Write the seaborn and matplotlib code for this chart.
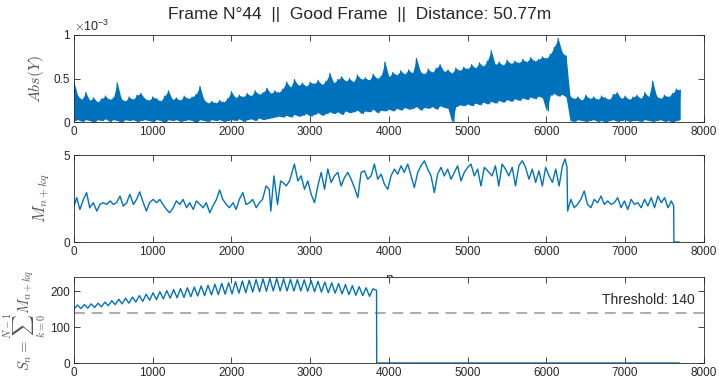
import matplotlib
matplotlib.use("Agg")
import matplotlib.pyplot as plt
import numpy as np
import pandas as pd
import seaborn as sns

# ---- data ----
# top panel: |Y| (in units of 1e-3), upper / lower edge of the dense trace every 50 samples
abs_n = np.arange(0, 7701, 50)
abs_hi = [0.46, 0.30, 0.26, 0.34, 0.25, 0.28, 0.23, 0.27, 0.30, 0.26,
          0.28, 0.45, 0.27, 0.24, 0.29, 0.26, 0.31, 0.33, 0.27, 0.25,
          0.29, 0.27, 0.24, 0.30, 0.36, 0.26, 0.28, 0.25, 0.30, 0.27,
          0.29, 0.32, 0.41, 0.26, 0.22, 0.24, 0.22, 0.25, 0.23, 0.27,
          0.35, 0.28, 0.31, 0.29, 0.33, 0.30, 0.36, 0.32, 0.34, 0.39, 0.33, 0.36, 0.34, 0.38,
          0.46, 0.40, 0.49, 0.42, 0.45, 0.41, 0.46, 0.44, 0.48, 0.43, 0.47, 0.56,
          0.45, 0.49, 0.52, 0.47, 0.50, 0.46, 0.54, 0.49, 0.51, 0.48, 0.55, 0.50, 0.53, 0.69,
          0.52, 0.57, 0.54, 0.59, 0.55, 0.60, 0.56, 0.73, 0.58, 0.55,
          0.61, 0.57, 0.62, 0.66, 0.58, 0.60, 0.56, 0.62, 0.59, 0.63,
          0.61, 0.66, 0.62, 0.68, 0.64, 0.70, 0.82, 0.66, 0.69, 0.65,
          0.71, 0.67, 0.70, 0.68, 0.72, 0.69, 0.74, 0.70, 0.72, 0.75,
          0.73, 0.78, 0.86, 0.96, 0.80, 0.76,
          0.30, 0.27, 0.29, 0.25, 0.31, 0.27, 0.29, 0.26, 0.30, 0.28,
          0.26, 0.32, 0.34, 0.27, 0.30, 0.26, 0.29, 0.31, 0.27, 0.34,
          0.29, 0.47, 0.30, 0.27, 0.31, 0.29, 0.33, 0.38, 0.37]
abs_lo = [0.02, 0.03, 0.01, 0.03, 0.02, 0.00, 0.03, 0.02, 0.04, 0.01,
          0.03, 0.02, 0.00, 0.03, 0.02, 0.03, 0.01, 0.02, 0.03, 0.02,
          0.01, 0.03, 0.02, 0.00, 0.03, 0.02, 0.03, 0.01, 0.02, 0.03,
          0.02, 0.00, 0.03, 0.02, 0.01, 0.03, 0.02, 0.03, 0.01, 0.02,
          0.03, 0.02, 0.04, 0.01, 0.03, 0.04, 0.02, 0.05, 0.03, 0.04, 0.05, 0.06, 0.07, 0.06,
          0.08, 0.06, 0.09, 0.07, 0.08, 0.10, 0.07, 0.09, 0.11, 0.08, 0.10, 0.12,
          0.10, 0.12, 0.09, 0.13, 0.11, 0.12, 0.14, 0.10, 0.13, 0.12, 0.15, 0.11, 0.14, 0.13,
          0.15, 0.13, 0.16, 0.14, 0.17, 0.15, 0.16, 0.18, 0.14, 0.17,
          0.16, 0.18, 0.15, 0.19, 0.17, 0.16, 0.00, 0.18, 0.20, 0.19,
          0.21, 0.19, 0.22, 0.20, 0.23, 0.21, 0.24, 0.22, 0.25, 0.23,
          0.26, 0.24, 0.27, 0.25, 0.28, 0.26, 0.29, 0.27, 0.30, 0.28,
          0.13, 0.31, 0.33, 0.30, 0.32, 0.29,
          0.02, 0.01, 0.03, 0.02, 0.01, 0.02, 0.03, 0.01, 0.02, 0.00,
          0.02, 0.03, 0.01, 0.02, 0.03, 0.01, 0.02, 0.02, 0.01, 0.03,
          0.02, 0.01, 0.02, 0.03, 0.01, 0.02, 0.00, 0.02, 0.03]

# middle panel: M_{n+kq}
mid_n = [0, 35, 75, 120, 160, 200, 245, 290, 330, 370, 415, 460, 500, 540, 585, 625,
         670, 710, 755, 795, 835, 880, 920, 960, 1005, 1050, 1090, 1130, 1175, 1215,
         1260, 1300, 1345, 1385, 1430, 1470, 1515, 1555, 1600, 1640, 1680, 1725, 1765,
         1810, 1850, 1890, 1935, 1975, 2020, 2060, 2100, 2145, 2185, 2230, 2270, 2315,
         2355, 2395, 2440, 2480, 2500, 2540, 2585, 2625,
         2653, 2696, 2738, 2800, 2843, 2886, 2928, 2970, 3013, 3055, 3097, 3140, 3182,
         3224, 3266, 3309, 3351, 3393, 3436, 3478, 3520, 3562, 3605, 3647, 3689, 3732,
         3774, 3816, 3858, 3901, 3943, 3985, 4027, 4070, 4112, 4154, 4196, 4239, 4281,
         4323, 4366, 4408, 4450, 4493, 4535, 4577, 4619, 4662, 4704, 4746, 4789, 4831,
         4873, 4915, 4958, 5000, 5042, 5085, 5127, 5169, 5212, 5254,
         5311, 5353, 5396, 5438, 5481, 5523, 5566, 5608, 5651, 5694, 5736, 5779, 5821,
         5864, 5906, 5949, 5991, 6034, 6077, 6119, 6162, 6204, 6238, 6262, 6270,
         6311, 6353, 6396, 6438, 6481, 6523, 6566, 6608, 6651, 6694, 6736, 6779, 6821,
         6864, 6906, 6949, 6991, 7034, 7077, 7119, 7162, 7204, 7247, 7289, 7332, 7374,
         7417, 7460, 7502, 7545, 7587, 7617, 7620, 7690]
mid_val = [2.07, 2.55, 1.87, 2.45, 2.84, 1.97, 2.26, 1.78, 2.16, 2.26, 2.16, 2.36, 2.16,
           2.26, 2.64, 2.07, 2.26, 2.74, 2.16, 2.45, 2.88, 2.26, 1.78, 2.26, 2.45, 2.26,
           2.45, 2.16, 1.87, 1.68, 1.97, 2.36, 2.16, 2.45, 1.97, 2.26, 1.87, 2.36, 2.16,
           1.97, 2.26, 1.68, 2.07, 2.45, 2.99, 2.45, 2.16, 1.97, 2.26, 1.87, 2.45, 2.84,
           2.16, 2.26, 2.45, 1.97, 2.26, 2.45, 3.22, 3.03, 1.78, 3.80, 2.16, 3.51,
           3.42, 3.22, 3.51, 4.48, 3.51, 3.80, 3.03, 3.51, 2.74, 2.26, 3.22, 4.00, 3.03,
           4.19, 3.42, 3.80, 4.00, 3.22, 3.71, 4.00, 3.61, 3.13, 2.55, 4.00, 4.09, 3.61,
           3.80, 4.48, 3.61, 3.90, 3.32, 3.03, 3.80, 4.19, 3.90, 4.38, 4.00, 4.48, 3.80,
           3.13, 4.00, 4.38, 4.67, 4.19, 3.80, 2.84, 3.90, 4.29, 3.80, 4.19, 3.61, 4.00,
           4.38, 3.51, 4.00, 4.29, 4.48, 3.80, 4.19, 3.22, 4.29, 4.09,
           3.80, 4.38, 3.22, 4.48, 4.19, 3.80, 4.29, 3.22, 4.38, 4.67, 4.29, 3.61, 4.19,
           3.42, 4.09, 3.22, 4.29, 3.80, 3.42, 4.19, 3.22, 4.38, 4.77, 4.30, 1.78,
           2.45, 1.97, 2.16, 2.45, 2.93, 2.16, 1.97, 2.45, 2.26, 2.64, 2.16, 2.36, 2.16,
           2.26, 2.55, 1.97, 2.36, 1.87, 2.45, 2.16, 2.26, 1.97, 2.45, 2.07, 2.55, 1.97,
           2.64, 2.26, 2.55, 1.97, 2.36, 2.07, 0.0, 0.0]

# bottom panel: S_n, trough / peak of every ripple (period ~87 samples), then zero
sn_trough = [150, 152, 153, 155, 157, 160, 163, 165, 167, 170, 172, 175, 177, 179, 181,
             182, 183, 185, 187, 188, 190, 191, 192, 193, 195, 196, 198, 199, 200, 201,
             201, 201, 201, 201, 200, 199, 198, 196, 195, 193, 191, 189, 188, 186]
sn_peak = [162, 163, 165, 167, 170, 174, 178, 181, 184, 188, 192, 196, 199, 202, 205,
           208, 210, 212, 215, 217, 220, 222, 224, 227, 229, 231, 233, 235, 236, 236,
           235, 234, 233, 232, 230, 228, 226, 224, 222, 219, 216, 213, 210, 207]
sn_period = 87.3
sn_end = [(3843, 203), (3845, 0), (7690, 0)]
threshold = 140

title = "Frame N°44  ||  Good Frame  ||  Distance: 50.77m"

# ---- style ----
sns.set_style("ticks")
plt.rcParams["font.family"] = ["Liberation Sans", "DejaVu Sans"]
plt.rcParams["mathtext.fontset"] = "cm"
blue = "#0072BD"
dark = "#262626"

fig = plt.figure(figsize=(7.19, 3.83), dpi=100)
ax1 = fig.add_axes([0.1029, 0.6807, 0.876, 0.228])
ax2 = fig.add_axes([0.1029, 0.3681, 0.876, 0.2272])
ax3 = fig.add_axes([0.1029, 0.0522, 0.876, 0.2245])

# top: dense trace -> solid band between the edges, zigzag on top for texture
abs_zx = np.ravel(np.column_stack([abs_n, abs_n + 25]))[:-1]
abs_zy = np.ravel(np.column_stack([abs_hi, abs_lo]))[:-1]
ax1.fill_between(abs_n, abs_lo, abs_hi, color=blue, lw=0)
sns.lineplot(x=abs_zx, y=abs_zy, ax=ax1, color=blue, lw=0.9, sort=False)

# middle
df_mid = pd.DataFrame({"n": mid_n, "M": mid_val})
sns.lineplot(data=df_mid, x="n", y="M", ax=ax2, color=blue, lw=1.0, sort=False)

# bottom
sn_x = list(np.arange(2 * len(sn_peak)) * sn_period / 2)
sn_y = list(np.ravel(np.column_stack([sn_trough, sn_peak])))
sn_x += [p[0] for p in sn_end]
sn_y += [p[1] for p in sn_end]
sns.lineplot(x=sn_x, y=sn_y, ax=ax3, color=blue, lw=1.0, sort=False)
ax3.axhline(threshold, color="#a6a6a6", ls=(0, (6, 3.8)), lw=1.3, zorder=1)
ax3.text(7890, 175, f"Threshold: {threshold}", ha="right", va="center",
         fontsize=10, color=dark)

for ax in (ax1, ax2, ax3):
    ax.set_xlim(0, 8000)
    ax.set_xticks(range(0, 8001, 1000))
    ax.tick_params(direction="in", top=True, right=True, length=4, width=0.6,
                   colors=dark, labelsize=8.5, pad=3)
    for s in ax.spines.values():
        s.set_color(dark)
        s.set_linewidth(0.6)
    ax.set_facecolor("white")

ax1.set_ylim(0, 1)
ax1.set_yticks([0, 0.5, 1])
ax1.set_yticklabels(["0", "0.5", "1"])
ax1.set_ylabel(r"$Abs(Y)$", fontsize=11.5, color="#555555", labelpad=5)
ax1.text(0.0, 1.012, r"$\times\mathregular{10^{-3}}$", transform=ax1.transAxes,
         fontsize=9, color=dark, va="bottom")

ax2.set_ylim(0, 5)
ax2.set_yticks([0, 5])
ax2.set_ylabel(r"$M_{n+kq}$", fontsize=12, color="#555555", labelpad=8)
ax2.set_xlabel("n", fontsize=10, color=dark, labelpad=10)

ax3.set_ylim(0, 240)
ax3.set_yticks([0, 100, 200])
ax3.set_ylabel(r"$S_n = \sum_{k=0}^{N-1} M_{n+kq}$", fontsize=10.5, color="#555555",
               labelpad=1)
ax3.set_zorder(3)

fig.text(0.5, 0.963, title, ha="center", va="center", fontsize=12.5, color=dark)

fig.savefig("out.png", dpi=100)
